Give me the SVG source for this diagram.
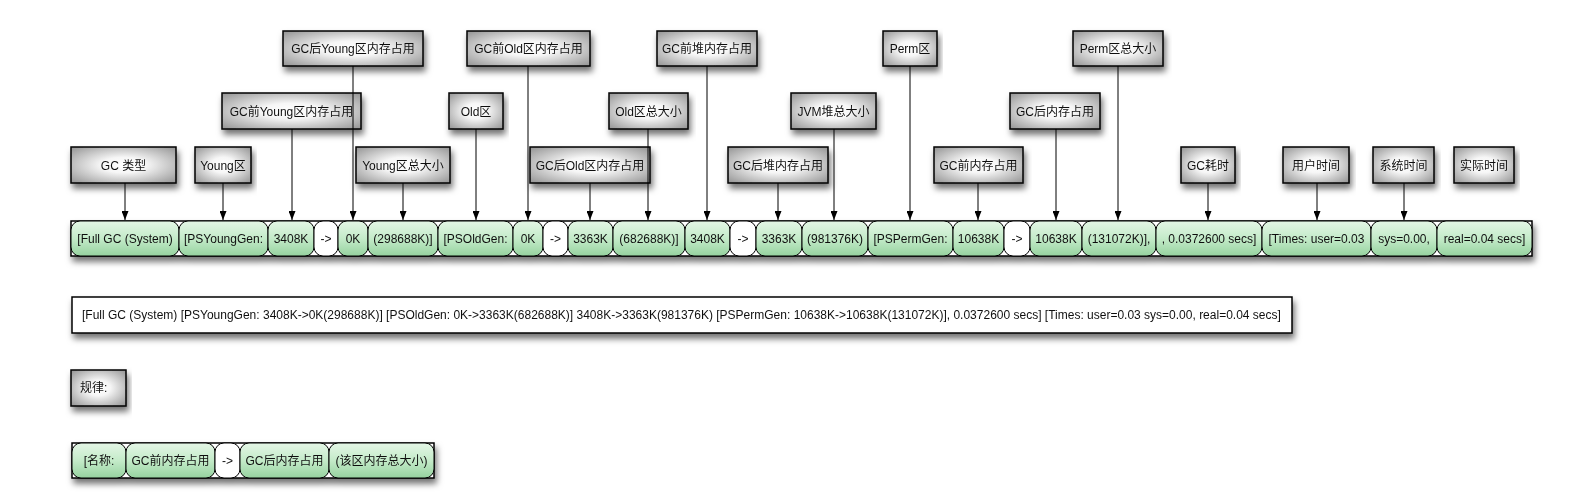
<svg xmlns="http://www.w3.org/2000/svg" width="1585" height="504" viewBox="0 0 1585 504">
<style>
  text { font-family: "Liberation Sans", "Noto Sans CJK SC", sans-serif; font-size: 12px; fill: #111; }
  .c { text-anchor: middle; }
  .lbl { fill: url(#gray); stroke: #000; stroke-width: 1.5; }
  .cell { fill: url(#green); stroke: #000; stroke-width: 1; }
  .wcell { fill: #fff; stroke: #000; stroke-width: 1; }
  .frame { fill: #fff; stroke: #000; stroke-width: 1.5; }
  .conn line { stroke: #000; stroke-width: 1; marker-end: url(#arr); }
</style>
<defs>
  <radialGradient id="gray" cx="50%" cy="50%" r="72%">
    <stop offset="0" stop-color="#ffffff"/>
    <stop offset="0.3" stop-color="#f6f6f6"/>
    <stop offset="1" stop-color="#8f8f8f"/>
  </radialGradient>
  <linearGradient id="green" x1="0" y1="0" x2="0" y2="1">
    <stop offset="0" stop-color="#e4f6e6"/>
    <stop offset="0.5" stop-color="#c4ebc9"/>
    <stop offset="1" stop-color="#96d29f"/>
  </linearGradient>
  <filter id="sh" x="-10%" y="-30%" width="120%" height="190%">
    <feDropShadow dx="2" dy="5" stdDeviation="3" flood-color="#000" flood-opacity="0.55"/>
  </filter>
  <marker id="arr" viewBox="0 0 9 7" refX="9" refY="3.5" markerWidth="9" markerHeight="7" markerUnits="userSpaceOnUse" orient="auto">
    <path d="M0,0 L9,3.5 L0,7 z" fill="#000"/>
  </marker>
</defs>
<rect width="1585" height="504" fill="#fff"/>

<!-- label nodes -->
<g id="labels">
  <g id="n-gc-type" filter="url(#sh)"><rect class="lbl" x="71" y="147" width="105" height="36"/><text class="c" x="123.5" y="169.5">GC 类型</text></g>
  <g id="n-young" filter="url(#sh)"><rect class="lbl" x="195" y="147" width="56" height="36"/><text class="c" x="223" y="169.5">Young区</text></g>
  <g id="n-young-before" filter="url(#sh)"><rect class="lbl" x="222" y="93" width="139" height="36"/><text class="c" x="291.5" y="115.5">GC前Young区内存占用</text></g>
  <g id="n-young-after" filter="url(#sh)"><rect class="lbl" x="283" y="31" width="140" height="35"/><text class="c" x="353" y="53">GC后Young区内存占用</text></g>
  <g id="n-young-total" filter="url(#sh)"><rect class="lbl" x="356" y="147" width="94" height="36"/><text class="c" x="403" y="169.5">Young区总大小</text></g>
  <g id="n-old" filter="url(#sh)"><rect class="lbl" x="449" y="93" width="54" height="36"/><text class="c" x="476" y="115.5">Old区</text></g>
  <g id="n-old-before" filter="url(#sh)"><rect class="lbl" x="467" y="31" width="123" height="35"/><text class="c" x="528.5" y="53">GC前Old区内存占用</text></g>
  <g id="n-old-after" filter="url(#sh)"><rect class="lbl" x="530" y="147" width="120" height="36"/><text class="c" x="590" y="169.5">GC后Old区内存占用</text></g>
  <g id="n-old-total" filter="url(#sh)"><rect class="lbl" x="609" y="93" width="79" height="36"/><text class="c" x="648.5" y="115.5">Old区总大小</text></g>
  <g id="n-heap-before" filter="url(#sh)"><rect class="lbl" x="657" y="31" width="100" height="35"/><text class="c" x="707" y="53">GC前堆内存占用</text></g>
  <g id="n-heap-after" filter="url(#sh)"><rect class="lbl" x="728" y="147" width="100" height="36"/><text class="c" x="778" y="169.5">GC后堆内存占用</text></g>
  <g id="n-heap-total" filter="url(#sh)"><rect class="lbl" x="791" y="93" width="85" height="36"/><text class="c" x="833.5" y="115.5">JVM堆总大小</text></g>
  <g id="n-perm" filter="url(#sh)"><rect class="lbl" x="883" y="31" width="54" height="35"/><text class="c" x="910" y="53">Perm区</text></g>
  <g id="n-perm-before" filter="url(#sh)"><rect class="lbl" x="934" y="147" width="89" height="36"/><text class="c" x="978.5" y="169.5">GC前内存占用</text></g>
  <g id="n-perm-after" filter="url(#sh)"><rect class="lbl" x="1010" y="93" width="90" height="36"/><text class="c" x="1055" y="115.5">GC后内存占用</text></g>
  <g id="n-perm-total" filter="url(#sh)"><rect class="lbl" x="1073" y="31" width="90" height="35"/><text class="c" x="1118" y="53">Perm区总大小</text></g>
  <g id="n-gc-time" filter="url(#sh)"><rect class="lbl" x="1181" y="147" width="54" height="36"/><text class="c" x="1208" y="169.5">GC耗时</text></g>
  <g id="n-user" filter="url(#sh)"><rect class="lbl" x="1283" y="147" width="66" height="36"/><text class="c" x="1316" y="169.5">用户时间</text></g>
  <g id="n-sys" filter="url(#sh)"><rect class="lbl" x="1373" y="147" width="61" height="36"/><text class="c" x="1403.5" y="169.5">系统时间</text></g>
  <g id="n-real" filter="url(#sh)"><rect class="lbl" x="1454" y="147" width="60" height="36"/><text class="c" x="1484" y="169.5">实际时间</text></g>
</g>

<!-- main log row -->
<g id="row" filter="url(#sh)">
  <rect class="frame" x="71" y="221" width="1461" height="35"/>
  <g id="r1"><rect class="cell" x="71" y="221" width="108" height="35" rx="9"/><text class="c" x="125" y="243">[Full GC (System)</text></g>
  <g id="r2"><rect class="cell" x="179" y="221" width="89" height="35" rx="9"/><text class="c" x="223.5" y="243">[PSYoungGen:</text></g>
  <g id="r3"><rect class="cell" x="268" y="221" width="46" height="35" rx="9"/><text class="c" x="291" y="243">3408K</text></g>
  <g id="r4"><rect class="wcell" x="314" y="221" width="24" height="35" rx="9"/><text class="c" x="326" y="243">-&gt;</text></g>
  <g id="r5"><rect class="cell" x="338" y="221" width="30" height="35" rx="9"/><text class="c" x="353" y="243">0K</text></g>
  <g id="r6"><rect class="cell" x="368" y="221" width="70" height="35" rx="9"/><text class="c" x="403" y="243">(298688K)]</text></g>
  <g id="r7"><rect class="cell" x="438" y="221" width="75" height="35" rx="9"/><text class="c" x="475.5" y="243">[PSOldGen:</text></g>
  <g id="r8"><rect class="cell" x="513" y="221" width="30" height="35" rx="9"/><text class="c" x="528" y="243">0K</text></g>
  <g id="r9"><rect class="wcell" x="543" y="221" width="25" height="35" rx="9"/><text class="c" x="555.5" y="243">-&gt;</text></g>
  <g id="r10"><rect class="cell" x="568" y="221" width="45" height="35" rx="9"/><text class="c" x="590.5" y="243">3363K</text></g>
  <g id="r11"><rect class="cell" x="613" y="221" width="72" height="35" rx="9"/><text class="c" x="649" y="243">(682688K)]</text></g>
  <g id="r12"><rect class="cell" x="685" y="221" width="45" height="35" rx="9"/><text class="c" x="707.5" y="243">3408K</text></g>
  <g id="r13"><rect class="wcell" x="730" y="221" width="26" height="35" rx="9"/><text class="c" x="743" y="243">-&gt;</text></g>
  <g id="r14"><rect class="cell" x="756" y="221" width="46" height="35" rx="9"/><text class="c" x="779" y="243">3363K</text></g>
  <g id="r15"><rect class="cell" x="802" y="221" width="66" height="35" rx="9"/><text class="c" x="835" y="243">(981376K)</text></g>
  <g id="r16"><rect class="cell" x="868" y="221" width="85" height="35" rx="9"/><text class="c" x="910.5" y="243">[PSPermGen:</text></g>
  <g id="r17"><rect class="cell" x="953" y="221" width="51" height="35" rx="9"/><text class="c" x="978.5" y="243">10638K</text></g>
  <g id="r18"><rect class="wcell" x="1004" y="221" width="26" height="35" rx="9"/><text class="c" x="1017" y="243">-&gt;</text></g>
  <g id="r19"><rect class="cell" x="1030" y="221" width="52" height="35" rx="9"/><text class="c" x="1056" y="243">10638K</text></g>
  <g id="r20"><rect class="cell" x="1082" y="221" width="74" height="35" rx="9"/><text class="c" x="1119" y="243">(131072K)],</text></g>
  <g id="r21"><rect class="cell" x="1156" y="221" width="106" height="35" rx="9"/><text class="c" x="1209" y="243">, 0.0372600 secs]</text></g>
  <g id="r22"><rect class="cell" x="1262" y="221" width="109" height="35" rx="9"/><text class="c" x="1316.5" y="243">[Times: user=0.03</text></g>
  <g id="r23"><rect class="cell" x="1371" y="221" width="66" height="35" rx="9"/><text class="c" x="1404" y="243">sys=0.00,</text></g>
  <g id="r24"><rect class="cell" x="1437" y="221" width="95" height="35" rx="9"/><text class="c" x="1484.5" y="243">real=0.04 secs]</text></g>
</g>

<!-- full log line -->
<g id="log" filter="url(#sh)">
  <rect x="72" y="297" width="1220" height="36" fill="#fff" stroke="#000" stroke-width="1.5"/>
  <text x="82" y="319">[Full GC (System) [PSYoungGen: 3408K-&gt;0K(298688K)] [PSOldGen: 0K-&gt;3363K(682688K)] 3408K-&gt;3363K(981376K) [PSPermGen: 10638K-&gt;10638K(131072K)], 0.0372600 secs] [Times: user=0.03 sys=0.00, real=0.04 secs]</text>
</g>

<!-- rule label -->
<g id="rule" filter="url(#sh)">
  <rect class="lbl" x="71" y="370" width="55" height="36"/>
  <text x="80" y="392">规律:</text>
</g>

<!-- legend row -->
<g id="legend" filter="url(#sh)">
  <rect class="frame" x="72" y="443" width="362" height="35"/>
  <g id="l1"><rect class="cell" x="72" y="443" width="54" height="35" rx="9"/><text class="c" x="99" y="465">[名称:</text></g>
  <g id="l2"><rect class="cell" x="126" y="443" width="89" height="35" rx="9"/><text class="c" x="170.5" y="465">GC前内存占用</text></g>
  <g id="l3"><rect class="wcell" x="215" y="443" width="25" height="35" rx="9"/><text class="c" x="227.5" y="465">-&gt;</text></g>
  <g id="l4"><rect class="cell" x="240" y="443" width="89" height="35" rx="9"/><text class="c" x="284.5" y="465">GC后内存占用</text></g>
  <g id="l5"><rect class="cell" x="329" y="443" width="105" height="35" rx="9"/><text class="c" x="381.5" y="465">(该区内存总大小)</text></g>
</g>

<!-- connectors -->
<g id="connectors" class="conn">
  <line x1="125" y1="183" x2="125" y2="220"/>
  <line x1="223" y1="183" x2="223" y2="220"/>
  <line x1="292" y1="129" x2="292" y2="220"/>
  <line x1="353" y1="66" x2="353" y2="220"/>
  <line x1="403" y1="183" x2="403" y2="220"/>
  <line x1="476" y1="129" x2="476" y2="220"/>
  <line x1="528" y1="66" x2="528" y2="220"/>
  <line x1="590" y1="183" x2="590" y2="220"/>
  <line x1="648" y1="129" x2="648" y2="220"/>
  <line x1="707" y1="66" x2="707" y2="220"/>
  <line x1="778" y1="183" x2="778" y2="220"/>
  <line x1="834" y1="129" x2="834" y2="220"/>
  <line x1="910" y1="66" x2="910" y2="220"/>
  <line x1="978" y1="183" x2="978" y2="220"/>
  <line x1="1056" y1="129" x2="1056" y2="220"/>
  <line x1="1118" y1="66" x2="1118" y2="220"/>
  <line x1="1208" y1="183" x2="1208" y2="220"/>
  <line x1="1317" y1="183" x2="1317" y2="220"/>
  <line x1="1404" y1="183" x2="1404" y2="220"/>
</g>
</svg>
